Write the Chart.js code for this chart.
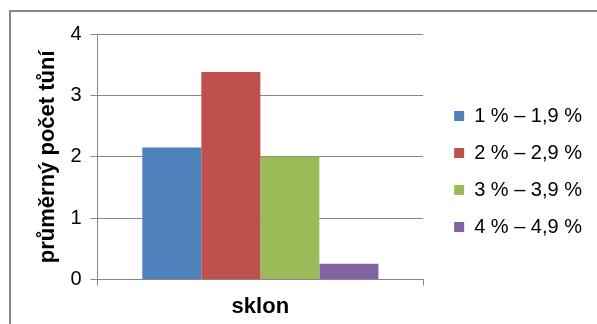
<!DOCTYPE html>
<html>
<head>
<meta charset="utf-8">
<script src="https://cdn.jsdelivr.net/npm/chart.js@4.4.0/dist/chart.umd.min.js"></script>
<style>
  html, body { margin: 0; padding: 0; background: #fff; }
  #wrap { position: relative; width: 597px; height: 324px; }
  #frame {
    position: absolute; left: 9px; top: 10px; right: 0; bottom: 0;
    border-top: 2px solid #878787; border-left: 2px solid #878787;
    pointer-events: none;
  }
</style>
</head>
<body>
<div id="wrap">
  <canvas id="chart" width="597" height="324"></canvas>
  <div id="frame"></div>
</div>
<script>
const categories = [""];
const seriesLabels = ["1 % – 1,9 %", "2 % – 2,9 %", "3 % – 3,9 %", "4 % – 4,9 %"];
const seriesValues = [2.15, 3.38, 2.0, 0.26];
const seriesColors = ["#4f81bd", "#c0504d", "#9bbb59", "#8064a2"];
const yTicks = [0, 1, 2, 3, 4];
const xTitle = "sklon";
const yTitle = "průměrný počet tůní";

Chart.defaults.font.family = "'Liberation Sans', Arial, sans-serif";
Chart.defaults.color = "#000";

// the layout caps a side legend at a quarter of the width, which cuts our labels
const LegendEl = Chart.Legend && Chart.Legend._element;
if (LegendEl) {
  const baseFit = LegendEl.prototype.fit;
  LegendEl.prototype.fit = function () {
    this.maxWidth = 220;
    baseFit.call(this);
  };
}

const datasets = seriesLabels.map((label, i) => ({
  label: label,
  data: [seriesValues[i]],
  backgroundColor: seriesColors[i],
  borderWidth: 0,
  barPercentage: 1,
  categoryPercentage: 0.725,
}));

new Chart(document.getElementById("chart"), {
  type: "bar",
  data: { labels: categories, datasets: datasets },
  options: {
    responsive: false,
    animation: false,
    layout: { padding: { top: 34, left: 35, right: 5, bottom: 15 } },
    plugins: {
      tooltip: { enabled: false },
      legend: {
        position: "right",
        labels: {
          boxWidth: 10,
          boxHeight: 10,
          padding: 17,
          font: { size: 20 },
          color: "#000",
        },
      },
    },
    scales: {
      x: {
        grid: { display: true, drawOnChartArea: false, color: "#878787", tickLength: 6 },
        border: { color: "#878787", width: 1 },
        ticks: { display: false },
        title: { display: true, text: xTitle, font: { size: 22, weight: "bold" }, padding: { top: 8, bottom: -11 } },
      },
      y: {
        min: yTicks[0],
        max: yTicks[yTicks.length - 1],
        ticks: { stepSize: 1, font: { size: 20 }, padding: 9, color: "#000" },
        grid: { color: "#878787", tickLength: 7 },
        border: { color: "#878787", width: 1 },
        title: { display: true, text: yTitle, font: { size: 22, weight: "bold" }, padding: { top: 0, bottom: 0 } },
      },
      // empty spacer between plot and legend
      gap: {
        position: "right",
        display: true,
        grid: { display: false },
        border: { display: false },
        ticks: { display: false },
        afterFit: (scale) => { scale.width = 14; },
      },
    },
  },
});
</script>
</body>
</html>
